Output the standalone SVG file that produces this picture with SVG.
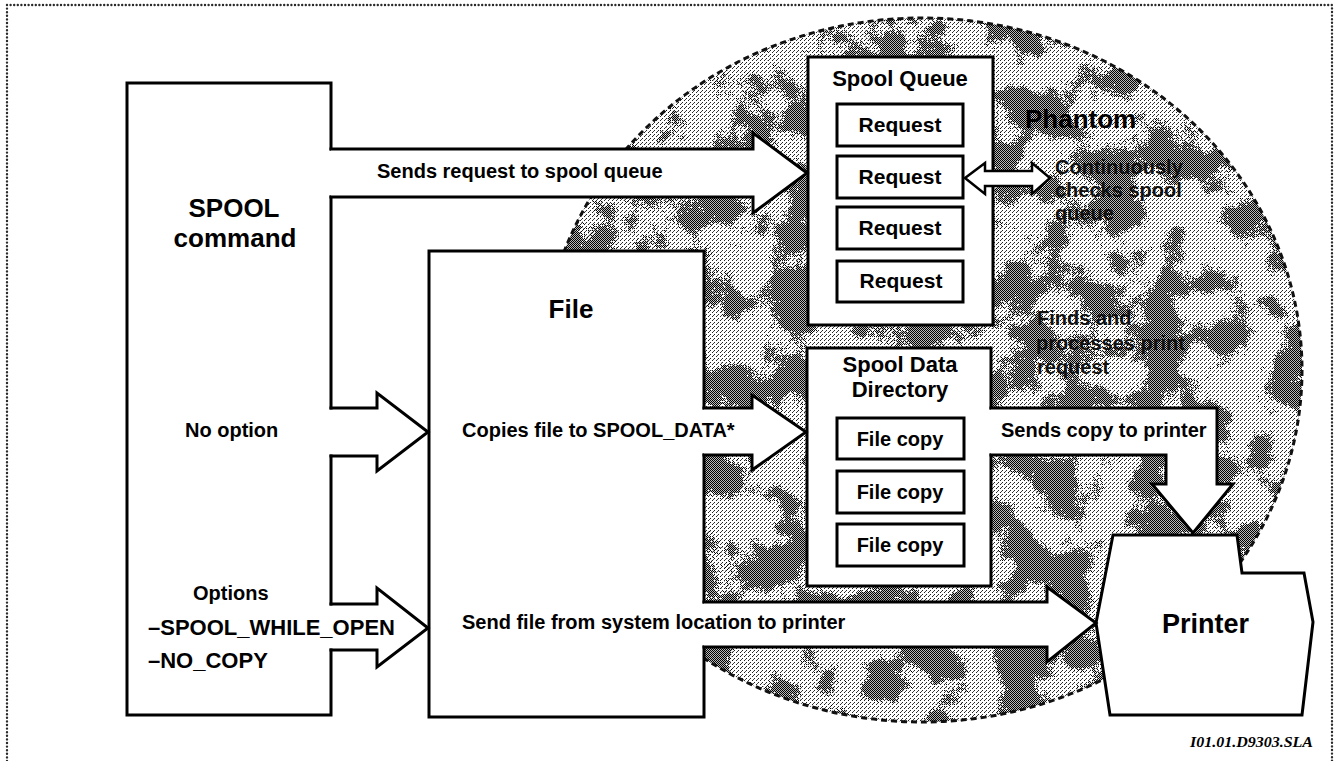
<svg xmlns="http://www.w3.org/2000/svg" width="1336" height="761" viewBox="0 0 1336 761">
<style>
  .shape { fill: #fff; stroke: none; }
  .edge { fill: none; stroke: #000; stroke-width: 3; stroke-linecap: square; stroke-linejoin: miter; }
  .box { fill: #fff; stroke: #000; stroke-width: 3; }
  .conn { fill: #fff; stroke: #000; stroke-width: 3; stroke-linecap: square; stroke-linejoin: miter; }
  .conn-open { fill: none; stroke: #000; stroke-width: 3; stroke-linecap: square; stroke-linejoin: miter; }
  text { font-family: "Liberation Sans", Arial, Helvetica, sans-serif; font-weight: bold; fill: #000; }
  .t20 { font-size: 20px; }
  .t21 { font-size: 21px; }
  .t22 { font-size: 22px; }
  .t26 { font-size: 26px; }
  .mid { text-anchor: middle; }
  .ph { fill: #111; font-size: 20px; }
</style>
<defs>
  <pattern id="dark" width="2" height="2" patternUnits="userSpaceOnUse">
    <rect x="0" y="0" width="1" height="1" fill="#000"/>
    <rect x="1" y="1" width="1" height="1" fill="#000"/>
  </pattern>
  <pattern id="light" width="4" height="4" patternUnits="userSpaceOnUse">
    <rect x="0" y="0" width="1" height="1" fill="#222"/>
    <rect x="2" y="2" width="1" height="1" fill="#222"/>
    <rect x="1" y="3" width="1" height="1" fill="#444"/>
  </pattern>
  <filter id="mottle" x="0" y="0" width="100%" height="100%" color-interpolation-filters="sRGB">
    <feTurbulence type="fractalNoise" baseFrequency="0.022" numOctaves="3" seed="11" result="n1"/>
    <feTurbulence type="fractalNoise" baseFrequency="0.7" numOctaves="1" seed="4" result="n2"/>
    <feColorMatrix in="n1" type="matrix" values="1 0 0 0 0  1 0 0 0 0  1 0 0 0 0  0 0 0 0 1" result="g1"/>
    <feColorMatrix in="n2" type="matrix" values="1 0 0 0 0  1 0 0 0 0  1 0 0 0 0  0 0 0 0 1" result="g2"/>
    <feComposite in="g1" in2="g2" operator="arithmetic" k1="0" k2="1" k3="0.35" k4="-0.2" result="m"/>
    <feComponentTransfer in="m">
      <feFuncR type="discrete" tableValues="0 0 0 0 0 0 0 0 0 1 1 1 1 1 1 1 1 1 1 1"/>
      <feFuncG type="discrete" tableValues="0 0 0 0 0 0 0 0 0 1 1 1 1 1 1 1 1 1 1 1"/>
      <feFuncB type="discrete" tableValues="0 0 0 0 0 0 0 0 0 1 1 1 1 1 1 1 1 1 1 1"/>
    </feComponentTransfer>
  </filter>
  <mask id="lightMask" maskUnits="userSpaceOnUse" x="530" y="10" width="790" height="725">
    <rect x="530" y="10" width="790" height="725" fill="#fff" filter="url(#mottle)"/>
  </mask>
</defs>

<rect x="0" y="0" width="1336" height="761" fill="#fff"/>
<path d="M7,761 V5 H1332 V761" fill="none" stroke="#2a2a2a" stroke-width="2.4" stroke-linecap="round" stroke-dasharray="0 3.6"/>

<g id="phantom">
  <ellipse cx="922" cy="370" rx="380" ry="352" fill="#b8b8b8"/>
  <ellipse cx="922" cy="370" rx="380" ry="352" fill="url(#dark)"/>
  <g mask="url(#lightMask)">
    <ellipse cx="922" cy="370" rx="380" ry="352" fill="#fff"/>
    <ellipse cx="922" cy="370" rx="380" ry="352" fill="url(#light)"/>
  </g>
  <ellipse cx="922" cy="370" rx="380" ry="352" fill="none" stroke="#111" stroke-width="3" stroke-dasharray="6 4"/>
  <text x="1025" y="128" class="t26" fill="#111">Phantom</text>
  <text class="ph" x="1037" y="325">Finds and</text>
  <text class="ph" x="1036" y="350">processes print</text>
  <text class="ph" x="1037" y="374">request</text>
</g>

<g id="spool-command">
  <rect class="shape" x="127" y="83" width="204" height="632"/>
  <path class="edge" d="M331,149 V83 H127 V715 H331 V650 M331,604 V456 M331,408 V197"/>
  <text class="t26 mid" x="234" y="217">SPOOL</text>
  <text class="t26 mid" x="235" y="247">command</text>
  <text class="t20" x="185" y="437">No option</text>
  <text class="t20" x="193" y="600">Options</text>
</g>

<g id="file">
  <rect class="shape" x="429" y="251" width="275" height="466"/>
  <path class="edge" d="M704,408 V251 H429 V717 H704 V647 M704,602 V455"/>
  <text class="t26 mid" x="571" y="318">File</text>
</g>

<g id="spool-queue">
  <rect class="box" x="808" y="57" width="185" height="268"/>
  <text class="t22 mid" x="900" y="86">Spool Queue</text>
  <rect class="box" x="837" y="104" width="126" height="42"/>
  <text class="t21 mid" x="900" y="132">Request</text>
  <rect class="box" x="837" y="156" width="126" height="42"/>
  <text class="t21 mid" x="900" y="184">Request</text>
  <rect class="box" x="837" y="207" width="126" height="42"/>
  <text class="t21 mid" x="900" y="235">Request</text>
  <rect class="box" x="837" y="261" width="126" height="41"/>
  <text class="t21 mid" x="901" y="288">Request</text>
</g>

<g id="spool-data">
  <rect class="shape" x="807" y="348" width="184" height="238"/>
  <path class="edge" d="M991,408 V348 H807 V586 H991 V455"/>
  <text class="t22 mid" x="900" y="372">Spool Data</text>
  <text class="t22 mid" x="900" y="397">Directory</text>
  <rect class="box" x="837" y="418" width="127" height="41"/>
  <text class="t20 mid" x="900" y="446">File copy</text>
  <rect class="box" x="837" y="471" width="127" height="42"/>
  <text class="t20 mid" x="900" y="499">File copy</text>
  <rect class="box" x="837" y="524" width="127" height="42"/>
  <text class="t20 mid" x="900" y="552">File copy</text>
</g>

<g id="printer">
  <path class="box" d="M1113,535 H1237 L1242,573 H1304 L1313,622 L1302,715 H1110 L1096,623 Z"/>
  <text x="1162" y="633" style="font-size:27px">Printer</text>
</g>

<g id="connectors">
  <path class="conn" d="M331,149 H753 V133 L807,173 L753,213 V197 H331"/>
  <path class="conn-open" d="M331,408 H377 V393 L428,432 L377,471 V456 H331"/>
  <path class="conn-open" d="M331,604 H377 V588 L428,628 L377,667 V650 H331"/>
  <path class="conn" d="M704,408 H752 V395 L806,432 L752,470 V455 H704"/>
  <path class="conn" d="M704,602 H1047 V587 L1096,623 L1047,662 V647 H704"/>
  <path class="conn" d="M991,408 H1217 V484 H1233 L1193,533 L1152,484 H1166 V455 H991"/>
  <path class="conn" d="M965,178 L985,163 V171 H1032 V163 L1050,178 L1032,194 V186 H985 V194 Z" style="stroke-width:2.5"/>
  <text class="t20" x="377" y="178">Sends request to spool queue</text>
  <text class="t20" x="462" y="437">Copies file to SPOOL_DATA*</text>
  <text class="t20" x="462" y="629">Send file from system location to printer</text>
  <text class="t20" x="1001" y="437">Sends copy to printer</text>
  <text class="ph" x="1055" y="174">Continuously</text>
  <text class="ph" x="1055" y="197">checks spool</text>
  <text class="ph" x="1055" y="220">queue</text>
  <text class="t22" x="148" y="635">–SPOOL_WHILE_OPEN</text>
  <text class="t22" x="148" y="668">–NO_COPY</text>
</g>

<text x="1313" y="747" text-anchor="end" textLength="123" lengthAdjust="spacingAndGlyphs" style="font-family:'Liberation Serif', 'Times New Roman', serif; font-style:italic; font-weight:bold; font-size:14px">I01.01.D9303.SLA</text>
</svg>
